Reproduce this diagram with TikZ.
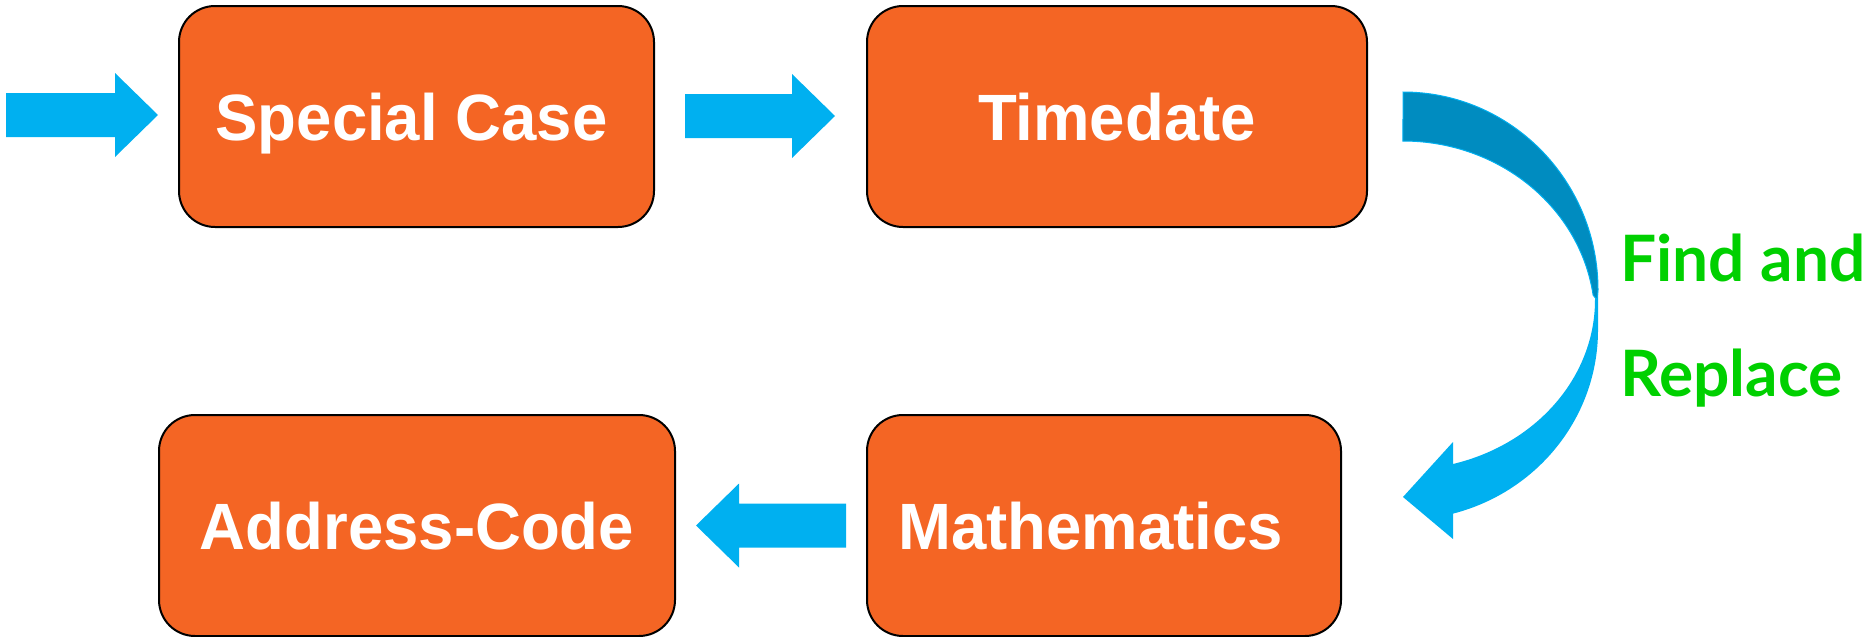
\documentclass[tikz,border=0pt]{standalone}
\usepackage{fontspec}
\setmainfont{Liberation Sans}[FakeStretch=0.97]
\newfontfamily\latofont{Lato}
\usetikzlibrary{calc}
\definecolor{boxorange}{RGB}{244,101,36}
\definecolor{arrowblue}{RGB}{0,176,240}
\definecolor{darkblue}{RGB}{0,140,192}
\definecolor{textgreen}{RGB}{0,208,0}
\newcommand\flowarrow[3]{%
  \coordinate (#1h) at ($(#3)!43pt!(#2)$);
  \fill[arrowblue] ($(#2)!22pt!90:(#3)$) -- ($(#1h)!22pt!-90:(#2)$) -- ($(#1h)!42pt!-90:(#2)$) -- (#3) -- ($(#1h)!42pt!90:(#2)$) -- ($(#1h)!22pt!90:(#2)$) -- ($(#2)!22pt!-90:(#3)$) -- cycle;}
\begin{document}
\begin{tikzpicture}[x=1pt,y=-1pt,
  box/.style={draw=black, line width=2pt, fill=boxorange, rounded corners=36pt,
    minimum height=221pt, text=white, font=\fontsize{65.5}{65.5}\selectfont\bfseries,
    text height=47pt, text depth=0pt, inner sep=0pt},
  greentext/.style={anchor=base west, text=textgreen, inner sep=0pt,
    font=\latofont\bfseries\fontsize{64}{64}\selectfont}]
\useasboundingbox (0,0) rectangle (1874,637);
% boxes
\node[box, minimum width=475pt] (sc) at (416.5,116.5) {Special Case\kern10pt};
\node[box, minimum width=500pt] (td) at (1117,116.5) {Timedate};
\node[box, minimum width=516pt] (ac) at (417,525.5) {Address-Code};
\node[box, minimum width=474pt] (ma) at (1104,525.5) {Mathematics\kern27pt};
% straight block arrows
\coordinate (in1s) at ($(sc.west)+(-172,-1.5)$);
\coordinate (in1e) at ($(sc.west)+(-20,-1.5)$);
\flowarrow{a1}{in1s}{in1e}
\coordinate (a2s) at ($(sc.east)+(30,-0.5)$);
\coordinate (a2e) at ($(td.west)+(-31,-0.5)$);
\flowarrow{a2}{a2s}{a2e}
\coordinate (a3s) at ($(ma.west)+(-20,0)$);
\coordinate (a3e) at ($(ac.east)+(20,0)$);
\flowarrow{a3}{a3s}{a3e}
% curved ribbon arrow: bright lower part
\fill[arrowblue] (1598,290) -- (1598,330)
  arc[start angle=0,end angle=-75.1,x radius=195pt,y radius=190pt]
  -- (1453,539) -- (1403,497) -- (1453,442) -- (1453,464)
  arc[start angle=-74.9,end angle=0,x radius=192pt,y radius=170pt] -- cycle;
% dark upper (back) part
\filldraw[fill=darkblue, draw=arrowblue, line width=1pt] (1403,92)
  arc[start angle=90,end angle=0,x radius=195pt,y radius=198pt]
  -- (1597,300) -- (1593.1,295.1)
  arc[start angle=8,end angle=90,x radius=192pt,y radius=179pt] -- cycle;
% label
\node[greentext] (fr1) at (1620,281) {Find and};
\node[greentext] (fr2) at (1620,396) {Replace};
\end{tikzpicture}
\end{document}
